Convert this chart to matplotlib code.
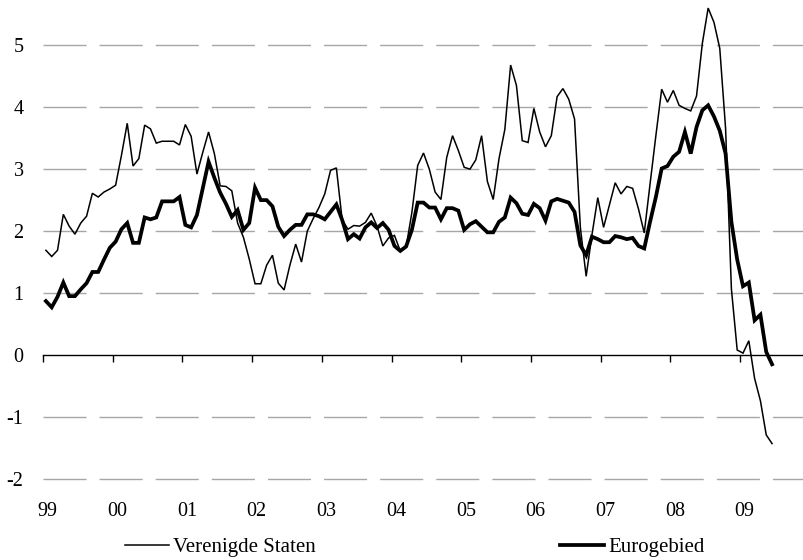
import numpy as np
import matplotlib
matplotlib.use('Agg')
import matplotlib.pyplot as plt
from matplotlib.lines import Line2D

plt.rcParams['font.family'] = ['Liberation Serif', 'DejaVu Serif']
plt.rcParams['lines.scale_dashes'] = False

# maandelijkse inflatie, jan 1999 - jun 2009
vs = [1.69, 1.59, 1.69, 2.27, 2.08, 1.95, 2.13, 2.24, 2.61, 2.55, 2.63, 2.68,
      2.74, 3.22, 3.74, 3.05, 3.17, 3.71, 3.65, 3.42, 3.45, 3.45, 3.45, 3.39,
      3.72, 3.53, 2.92, 3.27, 3.60, 3.25, 2.73, 2.72, 2.65, 2.13, 1.90, 1.55,
      1.15, 1.15, 1.45, 1.61, 1.16, 1.05, 1.45, 1.79, 1.50, 2.00, 2.20, 2.38,
      2.60, 2.98, 3.02, 2.18, 2.03, 2.09, 2.08, 2.14, 2.29, 2.08, 1.76, 1.89,
      1.93, 1.68, 1.74, 2.30, 3.06, 3.26, 3.00, 2.63, 2.51, 3.19, 3.54, 3.30,
      3.03, 3.00, 3.15, 3.54, 2.80, 2.51, 3.17, 3.64, 4.68, 4.35, 3.46, 3.43,
      3.98, 3.60, 3.36, 3.54, 4.17, 4.30, 4.13, 3.81, 2.06, 1.27, 1.94, 2.54,
      2.06, 2.42, 2.78, 2.60, 2.72, 2.69, 2.36, 1.97, 2.76, 3.54, 4.29, 4.08,
      4.27, 4.03, 3.98, 3.94, 4.18, 5.03, 5.60, 5.37, 4.95, 3.66, 1.07, 0.08,
      0.03, 0.23, -0.38, -0.74, -1.29, -1.43]
euro = [0.87, 0.77, 0.94, 1.17, 0.95, 0.95, 1.06, 1.16, 1.34, 1.34, 1.54, 1.73,
        1.83, 2.03, 2.13, 1.81, 1.81, 2.22, 2.19, 2.22, 2.48, 2.48, 2.48, 2.55,
        2.10, 2.06, 2.26, 2.69, 3.12, 2.86, 2.62, 2.44, 2.23, 2.34, 2.02, 2.13,
        2.70, 2.50, 2.50, 2.40, 2.07, 1.92, 2.02, 2.10, 2.10, 2.27, 2.27, 2.24,
        2.19, 2.31, 2.43, 2.18, 1.87, 1.95, 1.88, 2.06, 2.14, 2.05, 2.13, 2.02,
        1.76, 1.68, 1.75, 2.02, 2.46, 2.46, 2.38, 2.38, 2.19, 2.37, 2.37, 2.33,
        2.02, 2.11, 2.16, 2.07, 1.98, 1.98, 2.15, 2.22, 2.54, 2.45, 2.28, 2.26,
        2.44, 2.37, 2.17, 2.48, 2.52, 2.49, 2.46, 2.31, 1.77, 1.61, 1.91, 1.87,
        1.82, 1.82, 1.92, 1.90, 1.87, 1.89, 1.76, 1.72, 2.15, 2.55, 3.01, 3.05,
        3.20, 3.28, 3.60, 3.25, 3.68, 3.95, 4.03, 3.85, 3.62, 3.25, 2.15, 1.54,
        1.11, 1.17, 0.56, 0.65, 0.05, -0.15]
jaren = ['99', '00', '01', '02', '03', '04', '05', '06', '07', '08', '09']
yticks = [-2, -1, 0, 1, 2, 3, 4, 5]

fig = plt.figure(figsize=(8.04, 5.6), dpi=100)
ax = fig.add_axes([43/804, 1-482/560, 1-43/804, 482/560])

m = np.arange(len(vs))
ax.plot(m, vs, color='black', lw=1.1, solid_joinstyle='miter', zorder=3)
ax.plot(m, euro, color='black', lw=2.7, solid_joinstyle='miter', zorder=4)

ax.set_xlim(-0.5, 130.5)
ax.set_ylim(-2.05, 5.73)

for v in yticks:
    if v != 0:
        ax.axhline(v, color='#a6a6a6', lw=1.0, dashes=(31, 9.4), zorder=1)

ax.set_yticks(yticks)
ax.set_yticklabels([str(v) for v in yticks])
ax.tick_params(axis='y', length=0, pad=14, labelsize=14.5)

for s in ['top', 'left', 'right']:
    ax.spines[s].set_visible(False)
ax.spines['bottom'].set_position(('data', 0))
ax.spines['bottom'].set_linewidth(1.0)
ax.set_xticks([12*k - 0.5 for k in range(len(jaren))])
ax.set_xticklabels([])
ax.tick_params(axis='x', direction='out', length=5, width=1.0)

for k, lab in enumerate(jaren):
    ax.text(12*k + 0.3, -2.53, lab, ha='center', va='center', fontsize=14.5)

h1 = Line2D([], [], color='black', lw=1.1)
h2 = Line2D([], [], color='black', lw=2.7)
fig.legend(handles=[h1], labels=['Verenigde Staten'], loc='center left',
           bbox_to_anchor=(125/804, 1-547/560), frameon=False, fontsize=15,
           borderpad=0, borderaxespad=0, handlelength=2.1, handletextpad=0.2)
fig.legend(handles=[h2], labels=['Eurogebied'], loc='center left',
           bbox_to_anchor=(560/804, 1-547/560), frameon=False, fontsize=15,
           borderpad=0, borderaxespad=0, handlelength=2.1, handletextpad=0.2)

fig.savefig('out.png', dpi=100)
